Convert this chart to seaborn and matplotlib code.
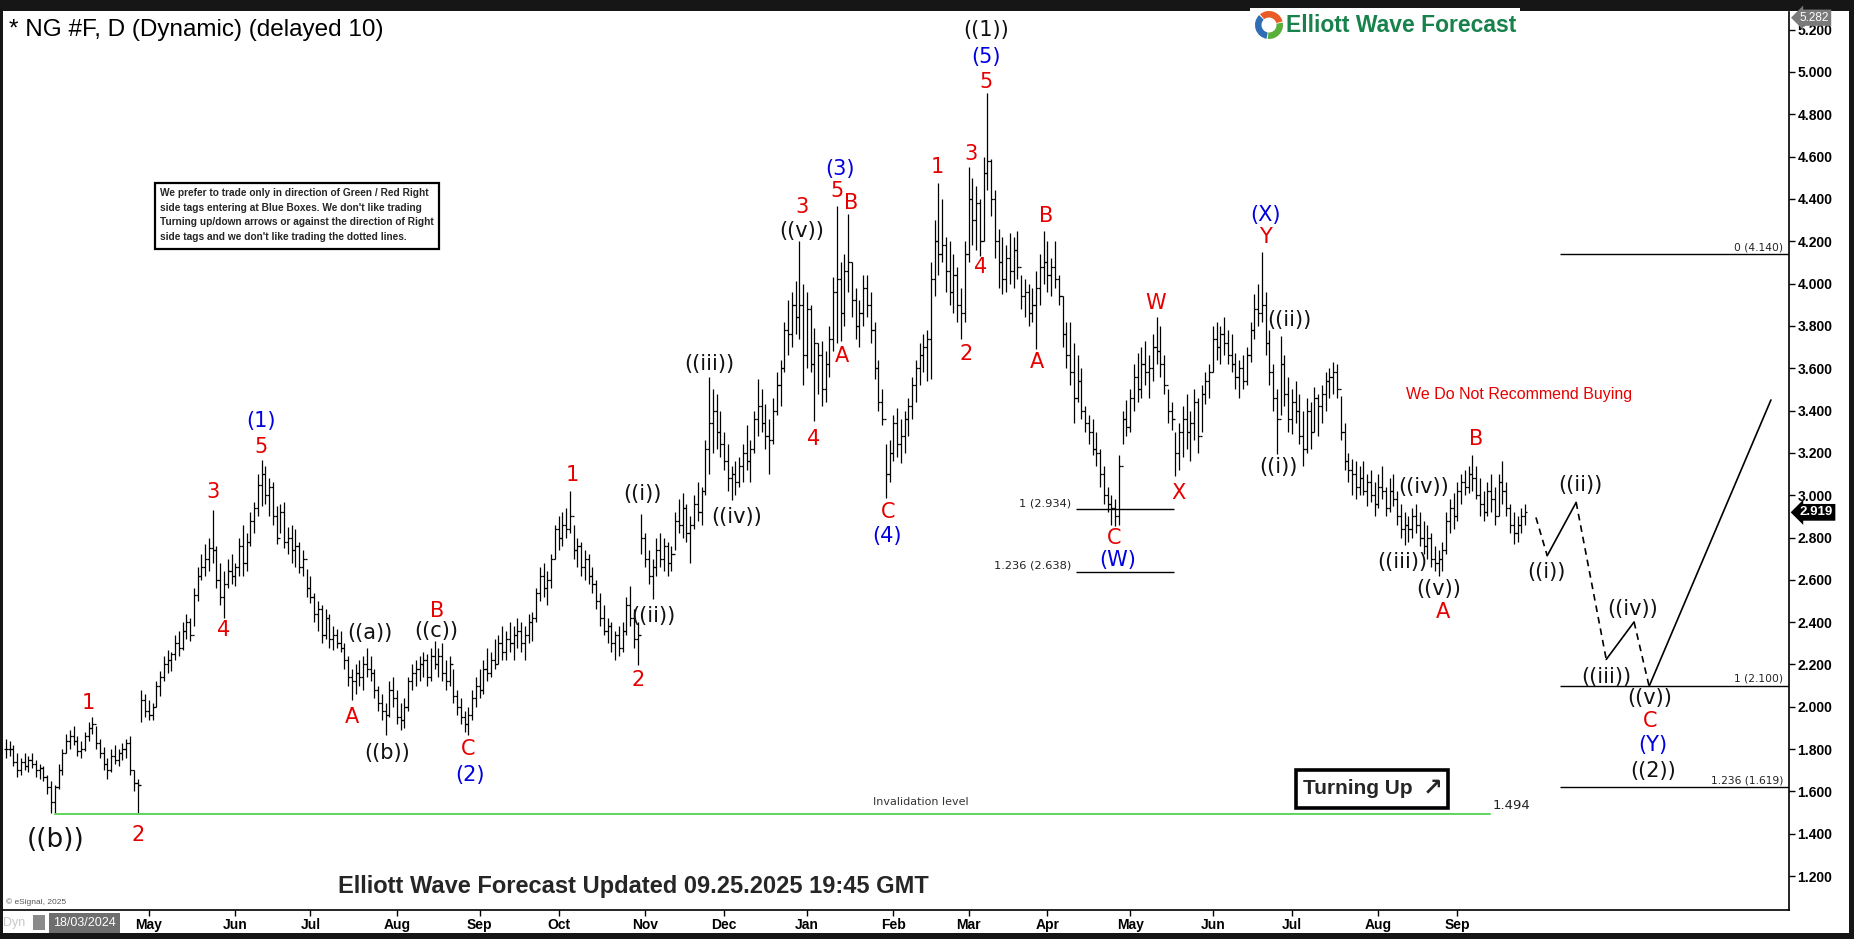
import matplotlib
matplotlib.use("Agg")
import matplotlib.pyplot as plt
import matplotlib.patches as mpatches
import numpy as np
import pandas as pd
import seaborn as sns

W, H, DPI = 1854, 939, 100
RED = "#e60000"
BLUE = "#0000e0"
INK = "#111111"
GREEN_LINE = "#5cd65c"
NARROW = ["Liberation Sans Narrow", "Liberation Sans", "DejaVu Sans"]
WAVE_FONT = ["DejaVu Sans"]

# ---------------------------------------------------------------------------
# Daily bars (business days from START)
# ---------------------------------------------------------------------------
START = "2024-03-08"

highs = [
    1.85, 1.84, 1.82, 1.78, 1.76, 1.78, 1.77, 1.78, 1.75, 1.73,
    1.72, 1.68, 1.65, 1.63, 1.73, 1.80, 1.87, 1.89, 1.91, 1.86,
    1.84, 1.88, 1.93, 1.954, 1.91, 1.85, 1.81, 1.76, 1.80, 1.82,
    1.80, 1.83, 1.85, 1.86, 1.70, 1.66, 2.08, 2.06, 2.03, 2.02,
    2.12, 2.17, 2.24, 2.27, 2.26, 2.34, 2.36, 2.40, 2.44, 2.42,
    2.56, 2.66, 2.72, 2.77, 2.80, 2.93, 2.76, 2.68, 2.64, 2.70,
    2.72, 2.68, 2.80, 2.86, 2.82, 2.92, 2.97, 3.10, 3.168, 3.14,
    3.08, 3.06, 2.95, 2.96, 2.97, 2.85, 2.86, 2.84, 2.78, 2.74,
    2.65, 2.62, 2.54, 2.50, 2.48, 2.46, 2.44, 2.38, 2.37, 2.36,
    2.30, 2.24, 2.18, 2.20, 2.22, 2.24, 2.28, 2.24, 2.18, 2.10,
    2.06, 2.02, 2.12, 2.14, 2.08, 2.02, 2.04, 2.14, 2.20, 2.22,
    2.24, 2.26, 2.25, 2.28, 2.313, 2.28, 2.30, 2.22, 2.24, 2.18,
    2.08, 2.04, 1.98, 2.00, 2.08, 2.14, 2.18, 2.22, 2.28, 2.26,
    2.32, 2.34, 2.38, 2.36, 2.40, 2.38, 2.42, 2.40, 2.38, 2.44,
    2.45, 2.56, 2.66, 2.68, 2.64, 2.72, 2.86, 2.90, 2.92, 2.94,
    3.02, 2.86, 2.80, 2.78, 2.74, 2.72, 2.66, 2.60, 2.54, 2.48,
    2.42, 2.40, 2.36, 2.38, 2.40, 2.52, 2.57, 2.46, 2.40, 2.91,
    2.82, 2.74, 2.70, 2.80, 2.82, 2.80, 2.78, 2.76, 2.92, 2.98,
    3.01, 2.96, 2.90, 3.00, 3.06, 3.04, 3.26, 3.557, 3.50, 3.48,
    3.40, 3.30, 3.24, 3.14, 3.16, 3.18, 3.24, 3.33, 3.26, 3.40,
    3.55, 3.50, 3.43, 3.36, 3.46, 3.58, 3.64, 3.82, 3.92, 3.96,
    4.01, 4.20, 4.00, 3.96, 3.90, 3.79, 3.72, 3.73, 3.68, 3.80,
    4.03, 4.367, 4.10, 4.14, 4.33, 4.10, 3.98, 3.92, 4.04, 4.04,
    3.96, 3.82, 3.64, 3.50, 3.24, 3.26, 3.38, 3.41, 3.36, 3.40,
    3.46, 3.56, 3.64, 3.72, 3.76, 3.78, 4.10, 4.30, 4.476, 4.40,
    4.22, 4.20, 4.14, 4.08, 3.98, 4.20, 4.55, 4.50, 4.46, 4.40,
    4.60, 4.901, 4.59, 4.44, 4.26, 4.22, 4.18, 4.24, 4.22, 4.25,
    4.04, 4.02, 4.00, 3.98, 4.06, 4.14, 4.25, 4.20, 4.12, 4.20,
    4.04, 3.94, 3.82, 3.82, 3.72, 3.66, 3.60, 3.42, 3.38, 3.36,
    3.30, 3.22, 3.14, 3.04, 3.00, 2.98, 3.19, 3.40, 3.45, 3.50,
    3.62, 3.67, 3.70, 3.73, 3.66, 3.76, 3.843, 3.80, 3.66, 3.50,
    3.44, 3.30, 3.34, 3.42, 3.48, 3.40, 3.50, 3.46, 3.52, 3.58,
    3.62, 3.80, 3.82, 3.80, 3.84, 3.78, 3.76, 3.67, 3.64, 3.66,
    3.70, 3.82, 3.95, 4.00, 4.147, 3.96, 3.78, 3.62, 3.50, 3.75,
    3.66, 3.56, 3.50, 3.54, 3.48, 3.40, 3.46, 3.44, 3.51, 3.48,
    3.52, 3.58, 3.60, 3.63, 3.62, 3.47, 3.34, 3.20, 3.17, 3.16,
    3.14, 3.16, 3.10, 3.12, 3.06, 3.10, 3.14, 3.04, 3.08, 3.10,
    3.02, 2.96, 2.92, 2.90, 2.94, 2.96, 2.92, 2.88, 2.86, 2.82,
    2.76, 2.74, 2.78, 2.92, 2.98, 3.01, 3.06, 3.10, 3.12, 3.14,
    3.19, 3.14, 3.08, 3.02, 3.06, 3.10, 3.04, 3.10, 3.16, 3.06,
    2.96, 2.92, 2.90, 2.94, 2.96,
]

lows = [
    1.76, 1.77, 1.72, 1.67, 1.68, 1.70, 1.69, 1.71, 1.67, 1.66,
    1.65, 1.59, 1.50, 1.494, 1.61, 1.68, 1.78, 1.80, 1.82, 1.77,
    1.76, 1.79, 1.84, 1.87, 1.80, 1.76, 1.70, 1.66, 1.69, 1.73,
    1.72, 1.75, 1.76, 1.68, 1.60, 1.494, 1.93, 1.95, 1.94, 1.94,
    2.00, 2.05, 2.12, 2.16, 2.17, 2.22, 2.24, 2.27, 2.32, 2.31,
    2.38, 2.50, 2.60, 2.62, 2.64, 2.68, 2.56, 2.48, 2.42, 2.56,
    2.58, 2.57, 2.62, 2.62, 2.64, 2.76, 2.82, 2.90, 2.95, 2.96,
    2.90, 2.86, 2.77, 2.82, 2.75, 2.72, 2.68, 2.66, 2.63, 2.62,
    2.52, 2.49, 2.40, 2.36, 2.30, 2.32, 2.28, 2.27, 2.28, 2.26,
    2.18, 2.10, 2.03, 2.06, 2.10, 2.08, 2.14, 2.12, 2.04, 1.98,
    1.94, 1.865, 1.95, 2.00, 1.92, 1.89, 1.90, 1.98, 2.08, 2.10,
    2.12, 2.14, 2.10, 2.12, 2.18, 2.14, 2.12, 2.08, 2.10, 2.02,
    1.96, 1.92, 1.88, 1.865, 1.94, 2.00, 2.04, 2.06, 2.12, 2.14,
    2.18, 2.20, 2.22, 2.22, 2.26, 2.22, 2.28, 2.26, 2.22, 2.30,
    2.31, 2.40, 2.50, 2.52, 2.48, 2.56, 2.70, 2.74, 2.76, 2.80,
    2.82, 2.70, 2.66, 2.62, 2.60, 2.58, 2.54, 2.46, 2.38, 2.34,
    2.30, 2.26, 2.22, 2.24, 2.26, 2.34, 2.38, 2.28, 2.198, 2.72,
    2.66, 2.58, 2.51, 2.62, 2.66, 2.64, 2.62, 2.64, 2.74, 2.82,
    2.80, 2.78, 2.68, 2.84, 2.88, 2.86, 3.00, 3.10, 3.20, 3.22,
    3.18, 3.12, 3.02, 2.976, 3.00, 3.04, 3.06, 3.12, 3.06, 3.20,
    3.28, 3.30, 3.22, 3.10, 3.24, 3.38, 3.42, 3.58, 3.66, 3.70,
    3.76, 3.74, 3.52, 3.60, 3.58, 3.35, 3.48, 3.42, 3.44, 3.56,
    3.68, 3.72, 3.73, 3.80, 3.96, 3.84, 3.74, 3.70, 3.80, 3.84,
    3.72, 3.55, 3.40, 3.33, 2.985, 3.06, 3.16, 3.18, 3.15, 3.20,
    3.28, 3.36, 3.44, 3.52, 3.58, 3.54, 3.55, 3.94, 4.04, 4.10,
    3.96, 3.90, 3.86, 3.82, 3.74, 3.82, 4.10, 4.18, 4.16, 4.13,
    4.20, 4.44, 4.32, 4.12, 3.98, 3.95, 3.96, 4.00, 3.98, 4.02,
    3.88, 3.84, 3.80, 3.82, 3.69, 3.90, 4.00, 3.96, 3.94, 3.98,
    3.90, 3.70, 3.60, 3.52, 3.34, 3.44, 3.36, 3.30, 3.24, 3.19,
    3.14, 3.04, 2.96, 2.92, 2.86, 2.856, 2.86, 3.24, 3.28, 3.30,
    3.40, 3.44, 3.46, 3.52, 3.46, 3.54, 3.62, 3.56, 3.48, 3.34,
    3.31, 3.09, 3.12, 3.18, 3.22, 3.16, 3.26, 3.20, 3.30, 3.43,
    3.46, 3.58, 3.64, 3.62, 3.66, 3.62, 3.58, 3.50, 3.46, 3.50,
    3.52, 3.63, 3.74, 3.80, 3.82, 3.66, 3.52, 3.40, 3.194, 3.38,
    3.42, 3.30, 3.29, 3.34, 3.24, 3.14, 3.20, 3.22, 3.30, 3.28,
    3.34, 3.40, 3.46, 3.48, 3.46, 3.26, 3.12, 3.06, 3.00, 2.98,
    3.00, 3.00, 2.95, 2.97, 2.90, 2.94, 2.98, 2.90, 2.92, 2.95,
    2.86, 2.80, 2.765, 2.78, 2.80, 2.82, 2.76, 2.72, 2.70, 2.66,
    2.64, 2.62, 2.64, 2.72, 2.82, 2.84, 2.88, 2.96, 3.00, 3.01,
    3.02, 2.98, 2.90, 2.88, 2.90, 2.92, 2.86, 2.90, 2.96, 2.90,
    2.82, 2.77, 2.78, 2.82, 2.86,
]

closes = [
    1.80, 1.80, 1.74, 1.70, 1.74, 1.72, 1.75, 1.73, 1.70, 1.71,
    1.67, 1.62, 1.55, 1.62, 1.70, 1.78, 1.84, 1.86, 1.84, 1.79,
    1.80, 1.86, 1.90, 1.92, 1.83, 1.78, 1.73, 1.70, 1.77, 1.75,
    1.78, 1.80, 1.83, 1.70, 1.64, 1.63, 2.03, 1.98, 1.96, 2.00,
    2.10, 2.14, 2.20, 2.22, 2.25, 2.30, 2.28, 2.36, 2.40, 2.34,
    2.53, 2.62, 2.66, 2.70, 2.75, 2.74, 2.60, 2.52, 2.58, 2.64,
    2.62, 2.66, 2.76, 2.68, 2.78, 2.88, 2.94, 3.05, 3.10, 3.00,
    3.04, 2.90, 2.80, 2.92, 2.78, 2.80, 2.74, 2.76, 2.66, 2.70,
    2.56, 2.52, 2.44, 2.46, 2.34, 2.42, 2.32, 2.34, 2.30, 2.28,
    2.22, 2.14, 2.12, 2.16, 2.14, 2.20, 2.18, 2.16, 2.08, 2.02,
    1.98, 1.96, 2.08, 2.04, 1.95, 1.94, 2.00, 2.12, 2.16, 2.18,
    2.20, 2.22, 2.14, 2.24, 2.20, 2.24, 2.16, 2.12, 2.20, 2.05,
    2.00, 1.95, 1.92, 1.96, 2.04, 2.10, 2.08, 2.18, 2.16, 2.22,
    2.20, 2.30, 2.26, 2.32, 2.30, 2.34, 2.36, 2.30, 2.34, 2.40,
    2.42, 2.54, 2.62, 2.56, 2.60, 2.70, 2.84, 2.80, 2.86, 2.84,
    2.90, 2.74, 2.76, 2.66, 2.70, 2.62, 2.58, 2.50, 2.42, 2.36,
    2.38, 2.30, 2.34, 2.28, 2.36, 2.48, 2.42, 2.32, 2.34, 2.80,
    2.70, 2.62, 2.66, 2.74, 2.70, 2.76, 2.68, 2.72, 2.88, 2.86,
    2.94, 2.82, 2.86, 2.96, 2.92, 3.02, 3.22, 3.34, 3.40, 3.30,
    3.24, 3.16, 3.08, 3.10, 3.06, 3.14, 3.20, 3.16, 3.22, 3.36,
    3.42, 3.34, 3.28, 3.26, 3.40, 3.52, 3.60, 3.78, 3.76, 3.90,
    3.84, 3.90, 3.66, 3.88, 3.62, 3.72, 3.66, 3.50, 3.62, 3.74,
    3.96, 4.02, 3.86, 4.06, 4.10, 3.92, 3.80, 3.86, 3.98, 3.90,
    3.78, 3.60, 3.44, 3.36, 3.10, 3.20, 3.34, 3.24, 3.28, 3.36,
    3.42, 3.52, 3.60, 3.66, 3.70, 3.74, 4.02, 4.20, 4.14, 4.18,
    4.06, 3.96, 4.04, 3.90, 3.86, 4.14, 4.40, 4.30, 4.38, 4.20,
    4.52, 4.58, 4.40, 4.20, 4.10, 4.02, 4.12, 4.06, 4.16, 4.08,
    3.94, 3.96, 3.86, 3.90, 3.98, 4.08, 4.10, 4.04, 4.08, 4.02,
    3.94, 3.76, 3.66, 3.58, 3.46, 3.54, 3.40, 3.34, 3.30, 3.22,
    3.20, 3.10, 3.00, 2.96, 2.94, 2.90, 3.14, 3.36, 3.32, 3.46,
    3.56, 3.50, 3.62, 3.58, 3.60, 3.70, 3.68, 3.62, 3.52, 3.40,
    3.36, 3.20, 3.30, 3.36, 3.30, 3.34, 3.44, 3.28, 3.48, 3.54,
    3.58, 3.74, 3.70, 3.76, 3.72, 3.66, 3.62, 3.56, 3.60, 3.54,
    3.66, 3.78, 3.88, 3.86, 3.90, 3.72, 3.58, 3.46, 3.36, 3.62,
    3.48, 3.36, 3.44, 3.40, 3.28, 3.22, 3.40, 3.30, 3.46, 3.42,
    3.48, 3.54, 3.56, 3.58, 3.50, 3.30, 3.16, 3.12, 3.10, 3.04,
    3.08, 3.02, 3.06, 3.00, 2.96, 3.04, 3.02, 2.94, 3.02, 2.98,
    2.90, 2.84, 2.86, 2.84, 2.90, 2.86, 2.80, 2.76, 2.80, 2.70,
    2.68, 2.70, 2.74, 2.88, 2.94, 2.90, 3.02, 3.06, 3.04, 3.10,
    3.08, 3.00, 2.96, 2.92, 3.02, 2.98, 2.90, 3.06, 3.02, 2.94,
    2.86, 2.82, 2.86, 2.90, 2.919,
]

LAST_PRICE = 2.919
TOP_PRICE = 5.282
INVALIDATION = 1.494
INVALID_END = 394.7

# wave labels: (bar index, price, text, colour, font size)
labels = [
    (13.2, 1.373, "((b))", INK, 19),
    (22.0, 2.016, "1", RED, 15), (35.2, 1.396, "2", RED, 15),
    (55.0, 3.016, "3", RED, 15), (57.9, 2.362, "4", RED, 15),
    (67.9, 3.228, "5", RED, 15), (67.9, 3.351, "(1)", BLUE, 15),
    (92.1, 1.954, "A", RED, 15), (96.9, 2.351, "((a))", INK, 15),
    (101.3, 1.781, "((b))", INK, 15), (114.8, 2.451, "B", RED, 15),
    (114.5, 2.356, "((c))", INK, 15), (123.0, 1.803, "C", RED, 15),
    (123.3, 1.680, "(2)", BLUE, 15),
    (150.6, 3.094, "1", RED, 15), (168.2, 2.127, "2", RED, 15),
    (169.2, 3.004, "((i))", INK, 15), (172.3, 2.429, "((ii))", INK, 15),
    (187.1, 3.619, "((iii))", INK, 15), (194.3, 2.898, "((iv))", INK, 15),
    (211.6, 4.362, "3", RED, 15), (211.6, 4.250, "((v))", INK, 15),
    (214.8, 3.267, "4", RED, 15), (221.7, 4.541, "(3)", BLUE, 15),
    (221.1, 4.435, "5", RED, 15), (224.8, 4.379, "B", RED, 15),
    (222.3, 3.658, "A", RED, 15), (234.6, 2.921, "C", RED, 15),
    (234.3, 2.809, "(4)", BLUE, 15),
    (247.8, 4.552, "1", RED, 15), (255.3, 3.669, "2", RED, 15),
    (256.6, 4.613, "3", RED, 15), (259.1, 4.077, "4", RED, 15),
    (260.7, 4.954, "5", RED, 15), (260.7, 5.072, "(5)", BLUE, 15),
    (260.7, 5.200, "((1))", INK, 15),
    (276.7, 4.317, "B", RED, 15), (274.2, 3.630, "A", RED, 15),
    (294.7, 2.798, "C", RED, 15), (295.6, 2.692, "(W)", BLUE, 15),
    (305.7, 3.910, "W", RED, 15), (311.9, 3.010, "X", RED, 15),
    (334.9, 4.323, "(X)", BLUE, 15), (334.9, 4.222, "Y", RED, 15),
    (341.2, 3.826, "((ii))", INK, 15), (338.4, 3.133, "((i))", INK, 15),
    (377.0, 3.038, "((iv))", INK, 15), (371.4, 2.686, "((iii))", INK, 15),
    (381.1, 2.558, "((v))", INK, 15), (382.1, 2.446, "A", RED, 15),
    (390.9, 3.267, "B", RED, 15),
    (409.7, 2.636, "((i))", INK, 15), (418.6, 3.049, "((ii))", INK, 15),
    (425.5, 2.139, "((iii))", INK, 15), (432.7, 2.463, "((iv))", INK, 15),
    (437.1, 2.044, "((v))", INK, 15), (437.4, 1.932, "C", RED, 15),
    (438.1, 1.820, "(Y)", BLUE, 15), (438.1, 1.697, "((2))", INK, 15),
]

# projected path after the last bar
proj_idx = [406.9, 409.9, 417.6, 425.6, 433.0, 437.0, 469.4]
proj_price = [2.895, 2.714, 2.966, 2.224, 2.401, 2.097, 3.45]
proj_dashed = [True, False, True, False, True, False]

fib_left = [("1 (2.934)", 2.934), ("1.236 (2.638)", 2.638)]
fib_right = [("0 (4.140)", 4.140), ("1 (2.100)", 2.100), ("1.236 (1.619)", 1.619)]

disclaimer = [
    "We prefer to trade only in direction of Green / Red Right",
    "side tags entering at Blue Boxes. We don't like trading",
    "Turning up/down arrows or against the direction of Right",
    "side tags and we don't like trading the dotted lines.",
]

# ---------------------------------------------------------------------------
sns.set_theme(style="white")
plt.rcParams["font.family"] = ["Liberation Sans", "DejaVu Sans"]

df = pd.DataFrame({"high": highs, "low": lows, "close": closes})
df["date"] = pd.bdate_range(START, periods=len(df))
df["idx"] = np.arange(len(df))
df["open"] = df["close"].shift(1).fillna(df["close"])

firsts = df.groupby(df["date"].dt.to_period("M"))["idx"].min()
month_ticks = [(i, p.strftime("%b")) for p, i in firsts.items() if i > 20]

fig = plt.figure(figsize=(W / DPI, H / DPI), dpi=DPI, facecolor="#161616")

bg = fig.add_axes([0, 0, 1, 1])
bg.set_xlim(0, W)
bg.set_ylim(H, 0)
bg.axis("off")
bg.add_patch(mpatches.Rectangle((3, 11), 1846, 922, fc="white", ec="none"))

ax = fig.add_axes([3 / W, 1 - 910 / H, 1786 / W, 898 / H])
ax.set_facecolor("white")
ax.set_xlim(-0.77, 474.2)
ax.set_ylim(1.040, 5.283)
for s in ("top", "left"):
    ax.spines[s].set_visible(False)
for s in ("right", "bottom"):
    ax.spines[s].set_visible(True)
    ax.spines[s].set_color("black")
    ax.spines[s].set_linewidth(1.2)

# OHLC bars
ax.vlines(df["idx"], df["low"], df["high"], color="black", lw=0.9)
ax.hlines(df["close"], df["idx"], df["idx"] + 0.55, color="black", lw=0.9)
ax.hlines(df["open"], df["idx"] - 0.55, df["idx"], color="black", lw=0.9)

# invalidation level
start_idx = int(np.argmin(df["low"].values))
sns.lineplot(x=[start_idx, INVALID_END], y=[INVALIDATION, INVALIDATION],
             color=GREEN_LINE, lw=1.4, ax=ax)
ax.text(243.4, 1.552, "Invalidation level", fontsize=8, color="#333333",
        ha="center", va="center", family=WAVE_FONT)
ax.text(INVALID_END + 0.6, 1.536, f"{INVALIDATION:.3f}", fontsize=9.5,
        color="#222222", ha="left", va="center", family=WAVE_FONT)

# fibonacci levels
for txt, lvl in fib_left:
    ax.hlines(lvl, 284.6, 310.7, color="black", lw=1.0)
    ax.text(283.3, lvl + 0.028, txt, fontsize=8.2, ha="right", va="center",
            color="#222222", family=WAVE_FONT)
for txt, lvl in fib_right:
    ax.hlines(lvl, 413.2, 474.2, color="black", lw=1.0)
    ax.text(472.6, lvl + 0.032, txt, fontsize=7.7, ha="right", va="center",
            color="#222222", family=WAVE_FONT)

# projected path
for k, dashed in enumerate(proj_dashed):
    sns.lineplot(x=proj_idx[k:k + 2], y=proj_price[k:k + 2], color="black",
                 lw=1.2, linestyle=(0, (4, 3)) if dashed else "-", ax=ax)

# wave labels
for i, p, txt, col, size in labels:
    ax.text(i, p, txt, color=col, fontsize=size, ha="center", va="center",
            family=WAVE_FONT, clip_on=False)

# axes ticks
yt = np.arange(1.2, 5.201, 0.2)
ax.set_yticks(yt)
ax.set_yticklabels([f"{v:.3f}" for v in yt], fontsize=10, fontweight="bold")
ax.yaxis.tick_right()
ax.tick_params(axis="y", right=True, left=False, length=4, width=1, pad=2,
               colors="black")
ax.set_xticks([t[0] for t in month_ticks])
ax.set_xticklabels([t[1] for t in month_ticks], fontsize=10,
                   fontweight="bold", family=NARROW)
ax.tick_params(axis="x", bottom=True, length=4, width=1, pad=2, colors="black")
ax.set_xlabel("")
ax.set_ylabel("")

# price tags on the axis
yx = ax.get_yaxis_transform()
ax.text(1.006, 5.256, f"{TOP_PRICE:.3f}", transform=yx, fontsize=8.5,
        color="white", ha="left", va="center", clip_on=False,
        bbox=dict(boxstyle="larrow,pad=0.18", fc="#7a7a7a", ec="none"))
ax.text(1.006, LAST_PRICE, f"{LAST_PRICE:.3f}", transform=yx, fontsize=9.5,
        fontweight="bold", color="white", ha="left", va="center",
        clip_on=False,
        bbox=dict(boxstyle="larrow,pad=0.18", fc="black", ec="none"))

# ---------------------------------------------------------------------------
# overlay decorations in pixel space
# ---------------------------------------------------------------------------
ov = fig.add_axes([0, 0, 1, 1])
ov.set_xlim(0, W)
ov.set_ylim(H, 0)
ov.axis("off")

ov.text(9, 30, "* NG #F, D (Dynamic) (delayed 10)", fontsize=17.5,
        color="black", ha="left", va="center")

# logo
ov.add_patch(mpatches.Rectangle((1250, 8), 270, 34, fc="white", ec="none"))
for a0, a1, col in [(100, 225, "#2f6db5"), (230, 345, "#ea5a24"),
                    (350, 455, "#5aae3a")]:
    ov.add_patch(mpatches.Wedge((1269, 25), 14, a0, a1, width=6.5, fc=col,
                                ec="none"))
ov.text(1286, 25, "Elliott Wave Forecast", fontsize=16.5, fontweight="bold",
        color="#18824c", ha="left", va="center")

# disclaimer box
ov.add_patch(mpatches.Rectangle((155, 183), 284, 66, fc="white", ec="black",
                                lw=1.6))
for k, line in enumerate(disclaimer):
    ov.text(160, 193 + k * 14.6, line, fontsize=7.3, fontweight="bold",
            ha="left", va="center", family=NARROW)

# turning up box
ov.add_patch(mpatches.Rectangle((1296, 770), 152, 38, fc="white", ec="black",
                                lw=2.6))
ov.text(1303, 789, "Turning Up", fontsize=15, fontweight="bold", ha="left",
        va="center", family=NARROW)
ov.text(1443, 788, "\u2197", fontsize=17, fontweight="bold", ha="right",
        va="center", family=["DejaVu Sans"])

ov.text(1519, 394, "We Do Not Recommend Buying", fontsize=11.5, color=RED,
        ha="center", va="center")

ov.text(633, 887, "Elliott Wave Forecast Updated 09.25.2025 19:45 GMT",
        fontsize=17, fontweight="bold", ha="center", va="center",
        family=NARROW)
ov.text(6, 902, "\u00a9 eSignal, 2025", fontsize=6, color="#555555",
        ha="left", va="center")

# date strip widgets
ov.text(3, 923, "Dyn", fontsize=9, color="#c8c8c8", ha="left", va="center",
        family=NARROW)
ov.add_patch(mpatches.Rectangle((33, 915), 12, 15, fc="#8a8a8a", ec="none"))
ov.add_patch(mpatches.Rectangle((49, 913), 71, 20, fc="#6e6e6e", ec="none"))
ov.text(84.5, 923, "18/03/2024", fontsize=9, color="white", ha="center",
        va="center", family=NARROW)

fig.savefig("out.png", dpi=DPI, facecolor=fig.get_facecolor())
